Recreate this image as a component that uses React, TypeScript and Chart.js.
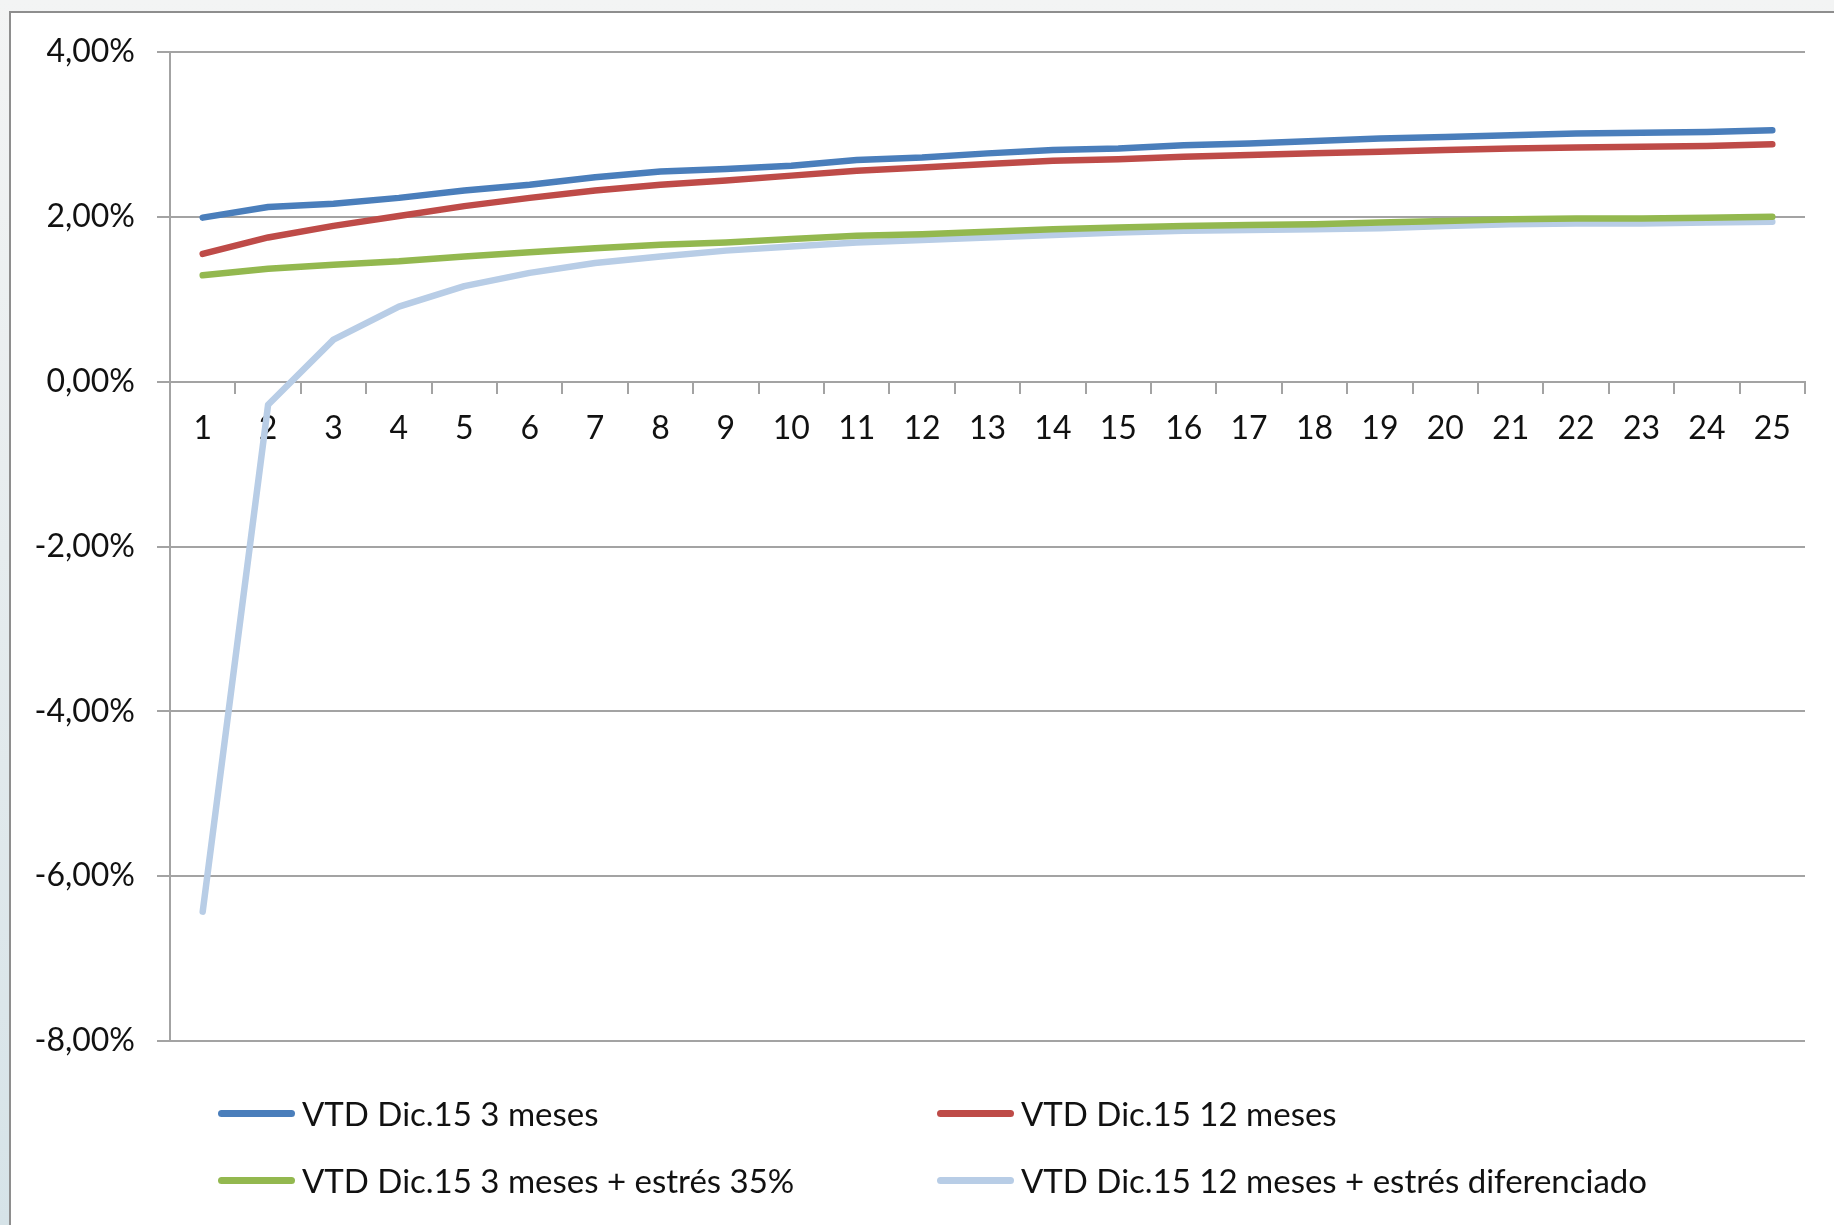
import React, { useEffect, useRef } from 'react';
import { Chart, registerables } from 'chart.js';

Chart.register(...registerables);

// ---- data ----
const categories = ['1', '2', '3', '4', '5', '6', '7', '8', '9', '10', '11', '12', '13', '14', '15', '16', '17', '18', '19', '20', '21', '22', '23', '24', '25'];

const seriesNames = [
  'VTD Dic.15 3 meses',
  'VTD Dic.15 12 meses',
  'VTD Dic.15 3 meses + estrés 35%',
  'VTD Dic.15 12 meses + estrés diferenciado',
];

const vtd3m = [1.99, 2.12, 2.16, 2.23, 2.32, 2.39, 2.48, 2.55, 2.58, 2.62, 2.69, 2.72, 2.77, 2.81, 2.83, 2.87, 2.89, 2.92, 2.95, 2.97, 2.99, 3.01, 3.02, 3.03, 3.05];
const vtd12m = [1.55, 1.75, 1.89, 2.01, 2.13, 2.23, 2.32, 2.39, 2.44, 2.50, 2.56, 2.60, 2.64, 2.68, 2.70, 2.73, 2.75, 2.77, 2.79, 2.81, 2.83, 2.84, 2.85, 2.86, 2.88];
const vtd3mStress = [1.29, 1.37, 1.42, 1.46, 1.52, 1.57, 1.62, 1.66, 1.69, 1.73, 1.77, 1.79, 1.82, 1.85, 1.87, 1.89, 1.90, 1.91, 1.93, 1.95, 1.97, 1.98, 1.98, 1.99, 2.00];
const vtd12mStress = [-6.43, -0.28, 0.51, 0.91, 1.16, 1.32, 1.44, 1.52, 1.59, 1.64, 1.69, 1.72, 1.75, 1.78, 1.81, 1.83, 1.84, 1.85, 1.86, 1.89, 1.91, 1.92, 1.92, 1.93, 1.94];

const yMin = -8;
const yMax = 4;
const yStep = 2;

// ---- styles ----
const seriesColors = ['#4a7ebb', '#be4b48', '#93b84f', '#b8cde6'];
const FONT = 'Lato, "Open Sans", "DejaVu Sans", sans-serif';
const GRID = '#a3a3a3';
const TEXT = '#111111';

const W = 1834;
const H = 1225;

export default function App() {
  const canvasRef = useRef<HTMLCanvasElement | null>(null);

  useEffect(() => {
    document.body.style.margin = '0';
    document.body.style.overflow = 'hidden';
    const canvas = canvasRef.current;
    if (!canvas) return;
    const seriesValues = [vtd3m, vtd12m, vtd3mStress, vtd12mStress];
    const chart = new Chart(canvas, {
      type: 'line',
      data: {
        labels: categories,
        datasets: seriesValues.map((vals, i) => ({
          label: seriesNames[i],
          data: vals,
          borderColor: seriesColors[i],
          backgroundColor: seriesColors[i],
          borderWidth: 6.5,
          pointRadius: 0,
          tension: 0,
          borderCapStyle: 'round' as const,
          borderJoinStyle: 'round' as const,
          fill: false,
        })),
      },
      options: {
        responsive: false,
        animation: false,
        devicePixelRatio: 1,
        layout: { padding: { left: 0, right: 29, top: 52, bottom: 184 } },
        plugins: {
          legend: { display: false },
          tooltip: { enabled: false },
        },
        scales: {
          x: {
            type: 'category',
            position: { y: 0 } as any,
            offset: true,
            grid: {
              offset: true,
              drawOnChartArea: false,
              drawTicks: true,
              tickLength: 11,
              color: GRID,
              lineWidth: 2,
            },
            border: { color: GRID, width: 2 },
            ticks: {
              font: { family: FONT, size: 32 },
              color: TEXT,
              padding: 17,
              maxRotation: 0,
              minRotation: 0,
              autoSkip: false,
            },
            afterFit: (scale: any) => {
              scale.height = 0;
            },
          },
          y: {
            type: 'linear',
            min: yMin,
            max: yMax,
            ticks: {
              stepSize: yStep,
              font: { family: FONT, size: 32 },
              color: TEXT,
              padding: 22,
              callback: (v: any) => Number(v).toFixed(2).replace('.', ',') + '%',
            },
            grid: {
              color: GRID,
              lineWidth: 2,
              tickLength: 13,
              drawTicks: true,
            },
            border: { color: GRID, width: 2 },
            afterFit: (scale: any) => {
              scale.width = 170;
            },
          },
        },
      },
    });
    return () => chart.destroy();
  }, []);

  const legendCols = [218, 937];
  const legendRows = [1113, 1180];

  return (
    <div
      style={{
        position: 'absolute',
        left: 0,
        top: 0,
        width: W,
        height: H,
        overflow: 'hidden',
        background: 'linear-gradient(180deg, #f3f4f4 0%, #e6ecee 45%, #d6e3e8 100%)',
        fontFamily: FONT,
      }}
    >
      <div
        style={{
          position: 'absolute',
          left: 9,
          top: 11,
          width: W + 20,
          height: H + 20,
          background: '#ffffff',
          border: '2px solid #8e8e8e',
          boxSizing: 'border-box',
        }}
      />
      <canvas
        ref={canvasRef}
        width={W}
        height={H}
        style={{ position: 'absolute', left: 0, top: 0, width: W, height: H }}
      />
      {seriesNames.map((name, i) => {
        const col = i % 2;
        const row = Math.floor(i / 2);
        return (
          <div
            key={name}
            style={{
              position: 'absolute',
              left: legendCols[col],
              top: legendRows[row] - 25,
              height: 50,
              display: 'flex',
              alignItems: 'center',
              whiteSpace: 'nowrap',
            }}
          >
            <div
              style={{
                width: 77,
                height: 7,
                borderRadius: 4,
                background: seriesColors[i],
                marginRight: 7,
              }}
            />
            <span style={{ fontSize: 33, color: TEXT, lineHeight: '50px' }}>{name}</span>
          </div>
        );
      })}
    </div>
  );
}
